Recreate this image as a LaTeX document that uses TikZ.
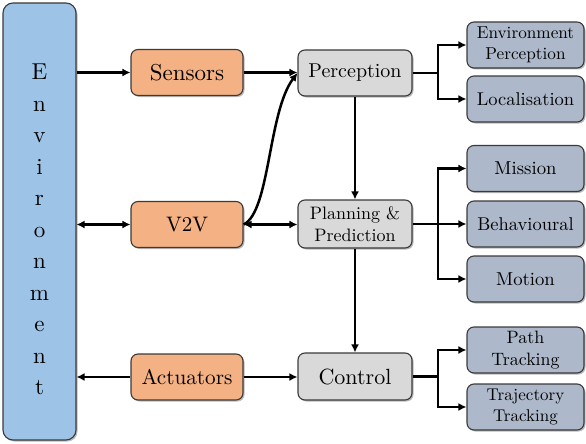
\documentclass[tikz,border=0pt]{standalone}
\usepackage{fontspec}
\setmainfont{lmroman10-regular.otf}
\usetikzlibrary{arrows.meta,shadows}
\definecolor{envblue}{HTML}{9DC3E6}
\definecolor{orng}{HTML}{F4B183}
\definecolor{lgray}{HTML}{D9D9D9}
\definecolor{bgray}{HTML}{ADB9CA}
\definecolor{edge}{HTML}{3A3A3A}
\begin{document}
\begin{tikzpicture}[x=1pt,y=-1pt,
  box/.style={draw=edge,line width=1.1pt,rounded corners=7pt,inner sep=0pt,align=center,
    drop shadow={shadow xshift=1.5pt,shadow yshift=-1.5pt,fill=black!45,opacity=0.6}},
  mainbox/.style={box,minimum width=112pt,minimum height=46pt},
  subbox/.style={box,fill=bgray,minimum width=117pt,minimum height=46pt},
  wire/.style={line width=2.5pt,-{Latex[length=8pt,width=8pt]}},
  bwire/.style={line width=2.5pt,{Latex[length=8pt,width=8pt]}-{Latex[length=8pt,width=8pt]}},
  plain/.style={line width=2.5pt}]
\useasboundingbox (0,0) rectangle (586,444);
% environment
\node[box,fill=envblue,minimum width=73pt,minimum height=437pt,rounded corners=10pt] (env) at (39.5,221.5) {};
\node[font=\fontsize{23}{31.5}\selectfont,align=center,inner sep=0pt] (envtxt) at (39.5,229.5)
  {E\\n\\v\\i\\r\\o\\n\\m\\e\\n\\t};
% left column
\node[mainbox,fill=orng,font=\fontsize{23}{26}\selectfont] (sens) at (187,72.5) {Sensors};
\node[mainbox,fill=orng,font=\fontsize{21}{24}\selectfont] (v2v) at (187,224.5) {V2V};
\node[mainbox,fill=orng,font=\fontsize{21.2}{24}\selectfont] (act) at (187,377) {Actuators};
% middle column
\node[mainbox,fill=lgray,minimum width=114pt,font=\fontsize{20}{22}\selectfont] (perc) at (355,73) {Perception};
\node[mainbox,fill=lgray,minimum width=114pt,minimum height=48pt,font=\fontsize{18}{22}\selectfont] (plan) at (355,224) {Planning \&\\Prediction};
\node[mainbox,fill=lgray,minimum width=114pt,minimum height=47pt,font=\fontsize{22}{24}\selectfont] (ctrl) at (355,376.5) {Control};
% right column
\node[subbox,font=\fontsize{17.2}{20.5}\selectfont] (envp) at (525.5,45) {Environment\\Perception};
\node[subbox,font=\fontsize{18.5}{22}\selectfont] (loc) at (525.5,99) {Localisation};
\node[subbox,font=\fontsize{18.7}{22}\selectfont] (miss) at (525.5,168.5) {Mission};
\node[subbox,font=\fontsize{18.5}{22}\selectfont] (beh) at (525.5,224) {Behavioural};
\node[subbox,font=\fontsize{18.7}{22}\selectfont] (mot) at (525.5,279) {Motion};
\node[subbox,font=\fontsize{17.9}{21.5}\selectfont] (path) at (525.5,350) {Path\\Tracking};
\node[subbox,font=\fontsize{17}{20.5}\selectfont] (traj) at (525.5,407) {Trajectory\\Tracking};
% branch points
\coordinate (b1) at (438,73);
\coordinate (b2) at (438,224);
\coordinate (b3) at (438,376.5);
% connectors left
\draw[wire] (env.east |- sens.west) -- (sens.west);
\draw[wire] (sens.east) -- (perc.west |- sens.east);
\draw[bwire] (env.east |- v2v.west) -- (v2v.west);
\draw[bwire] (v2v.east) -- (plan.west |- v2v.east);
\draw[wire] (act.west) -- (env.east |- act.west);
\draw[wire] (act.east) -- (ctrl.west |- act.east);
\draw[wire] (v2v.east) .. controls (270,212) and (268,112) .. (perc.west);
% vertical
\draw[wire] (perc.south) -- (plan.north);
\draw[wire] (plan.south) -- (ctrl.north);
% branches
\draw[plain] (perc.east) -- (b1);
\draw[wire] (b1) |- (envp.west);
\draw[wire] (b1) |- (loc.west);
\draw[plain] (plan.east) -- (b2);
\draw[wire] (b2) |- (miss.west);
\draw[wire] (b2) -- (beh.west);
\draw[wire] (b2) |- (mot.west);
\draw[plain] (ctrl.east) -- (b3);
\draw[wire] (b3) |- (path.west);
\draw[wire] (b3) |- (traj.west);
\end{tikzpicture}
\end{document}
